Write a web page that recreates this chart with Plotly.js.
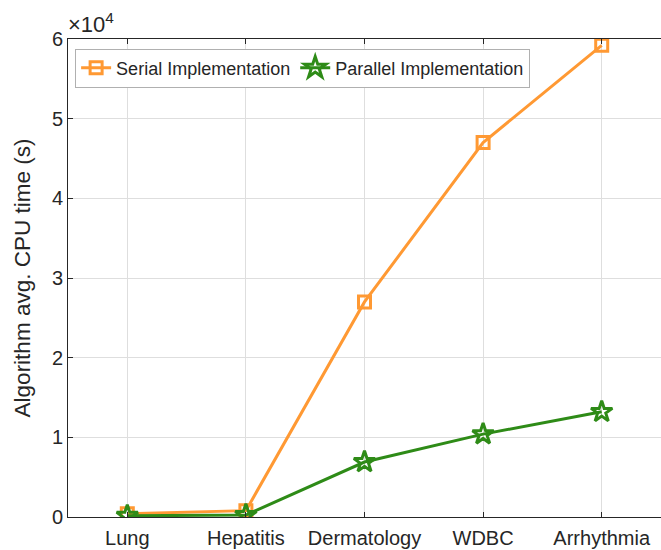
<!DOCTYPE html>
<html>
<head>
<meta charset="utf-8">
<script src="https://cdn.plot.ly/plotly-3.0.1.min.js"></script>
<style>
  html, body { margin: 0; padding: 0; background: #fff; }
  #chart { width: 661px; height: 550px; }
</style>
</head>
<body>
<div id="chart"></div>
<script>
// Datasets on the x axis
const datasets = ["Lung", "Hepatitis", "Dermatology", "WDBC", "Arrhythmia"];

// Average CPU time in seconds
const serialTime = [400, 800, 27000, 47000, 59200];
const parallelTime = [150, 250, 6900, 10400, 13200];

const yTickVals = [0, 10000, 20000, 30000, 40000, 50000, 60000];
const yTickText = ["0", "1", "2", "3", "4", "5", "6"];

const orange = "rgb(255,153,51)";
const green = "rgb(46,139,23)";

const traces = [
  {
    x: datasets,
    y: serialTime,
    name: "Serial Implementation",
    type: "scatter",
    mode: "lines+markers",
    line: { color: orange, width: 3 },
    marker: { symbol: "square-open", size: 12, color: orange, line: { color: orange, width: 3 } }
  },
  {
    x: datasets,
    y: parallelTime,
    name: "Parallel Implementation",
    type: "scatter",
    mode: "lines+markers",
    line: { color: green, width: 3 },
    marker: { symbol: "star-open", size: 16, color: green, line: { color: green, width: 3 } }
  }
];

const layout = {
  width: 661,
  height: 550,
  margin: { l: 68, r: 0, t: 39, b: 33 },
  paper_bgcolor: "#fff",
  plot_bgcolor: "#fff",
  font: { family: "Liberation Sans, Arial, sans-serif", color: "#262626" },
  showlegend: true,
  legend: {
    orientation: "h",
    x: 0.012, y: 0.98, xanchor: "left", yanchor: "top",
    bgcolor: "#fff",
    bordercolor: "#b0b0b0",
    borderwidth: 1,
    font: { size: 18, color: "#262626" },
    itemwidth: 30,
    tracegroupgap: 0
  },
  xaxis: {
    type: "category",
    range: [-0.5, 4.5],
    showgrid: true,
    gridcolor: "#dedede",
    gridwidth: 1,
    showline: true,
    linecolor: "#262626",
    linewidth: 1,
    mirror: "ticks",
    ticks: "inside",
    ticklen: 5,
    tickcolor: "#262626",
    ticklabelstandoff: 3,
    tickfont: { size: 20, color: "#262626" },
    zeroline: false
  },
  yaxis: {
    range: [0, 60000],
    tickvals: yTickVals,
    ticktext: yTickText,
    showgrid: true,
    gridcolor: "#dedede",
    gridwidth: 1,
    showline: true,
    linecolor: "#262626",
    linewidth: 1,
    mirror: false,
    ticks: "inside",
    ticklen: 5,
    tickcolor: "#262626",
    tickfont: { size: 20, color: "#262626" },
    zeroline: false,
    title: { text: "Algorithm avg. CPU time (s)", font: { size: 22.5, color: "#262626" }, standoff: 15 }
  },
  annotations: [
    {
      text: "×10<sup>4</sup>",
      xref: "paper", yref: "paper",
      x: 0, y: 1, xanchor: "left", yanchor: "bottom",
      showarrow: false,
      font: { size: 22, color: "#262626" },
      xshift: -2,
      yshift: 0
    }
  ]
};

Plotly.newPlot("chart", traces, layout, { displayModeBar: false, staticPlot: true });
</script>
</body>
</html>
